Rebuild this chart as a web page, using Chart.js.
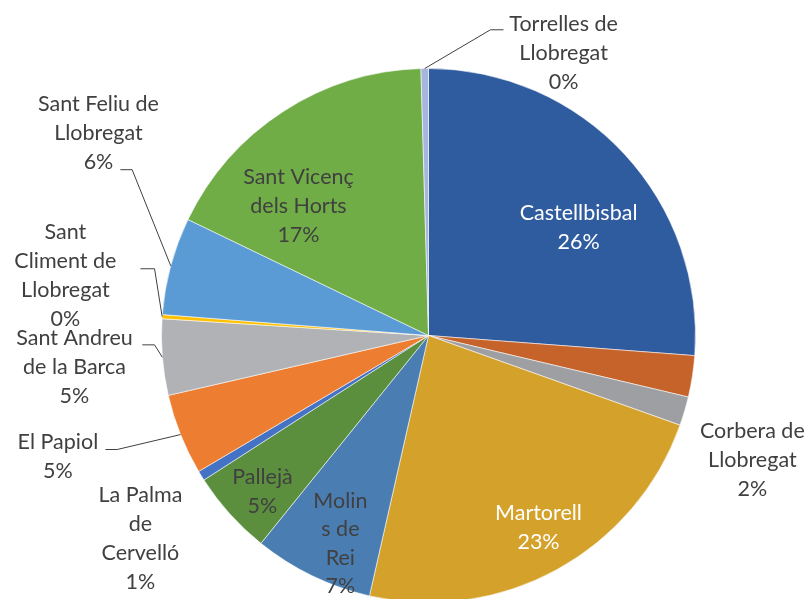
<!DOCTYPE html>
<html>
<head>
<meta charset="utf-8">
<script src="https://cdn.jsdelivr.net/npm/chart.js@4.4.1/dist/chart.umd.min.js"></script>
<style>
  html, body { margin: 0; padding: 0; background: #ffffff; overflow: hidden; }
  canvas { display: block; }
</style>
</head>
<body>
<canvas id="c" width="808" height="603"></canvas>
<script>
// ---- data (share of total, %) ----
const categories = [
  'Castellbisbal', 'Cervelló', 'Corbera de Llobregat', 'Martorell', 'Molins de Rei',
  'Pallejà', 'La Palma de Cervelló', 'El Papiol', 'Sant Andreu de la Barca',
  'Sant Climent de Llobregat', 'Sant Feliu de Llobregat', 'Sant Vicenç dels Horts',
  'Torrelles de Llobregat'
];
const shares = [26.2, 2.5, 1.75, 23.1, 7.25, 5.1, 0.6, 4.9, 4.6, 0.25, 5.9, 17.4, 0.45];
// label text as wrapped in the original (null = no label shown)
const labelLines = [
  ['Castellbisbal'], null, ['Corbera de', 'Llobregat'], ['Martorell'], ['Molin', 's de', 'Rei'],
  ['Pallejà'], ['La Palma', 'de', 'Cervelló'], ['El Papiol'], ['Sant Andreu', 'de la Barca'],
  ['Sant', 'Climent de', 'Llobregat'], ['Sant Feliu de', 'Llobregat'], ['Sant Vicenç', 'dels Horts'],
  ['Torrelles de', 'Llobregat']
];

// ---- styles / layout ----
const sliceColors = [
  '#2F5B9F', '#C6632A', '#9D9FA2', '#D4A12B', '#4A7EB3', '#5B8F3E', '#4472C4',
  '#ED7D31', '#B1B2B5', '#FFC000', '#5B9BD5', '#70AD47', '#A6B5DE'
];
// label block centre relative to pie centre, in radius units; optional leader elbow/end
const labelLayout = [
  { x: 0.562, y: -0.404, color: '#ffffff' },
  null,
  { x: 1.213, y: 0.468 },
  { x: 0.412, y: 0.719, color: '#ffffff' },
  { x: -0.330, y: 0.779, lh: 28.5 },
  { x: -0.622, y: 0.584 },
  { x: -1.079, y: 0.760 },
  { x: -1.388, y: 0.453, leader: [[-1.166, 0.427], [-1.210, 0.427]] },
  { x: -1.326, y: 0.120, leader: [[-1.026, 0.035], [-1.072, 0.035]] },
  { x: -1.360, y: -0.225, leader: [[-1.026, -0.250], [-1.079, -0.250]] },
  { x: -1.236, y: -0.757, leader: [[-1.110, -0.621], [-1.154, -0.621]] },
  { x: -0.487, y: -0.483 },
  { x: 0.506, y: -1.056, leader: [[0.232, -1.145], [0.281, -1.145]] }
];
const FONT_FAMILY = 'Lato, "Open Sans", sans-serif';
const FONT_SIZE = 21.5;
const LINE_H = 29;
const TEXT_COLOR = '#404040';
const REF_R = 267;

const sliceLabels = {
  id: 'sliceLabels',
  afterDatasetsDraw(chart) {
    const ctx = chart.ctx;
    const meta = chart.getDatasetMeta(0);
    meta.data.forEach((arc, i) => {
      const lines = labelLines[i];
      const lay = labelLayout[i];
      if (!lines || !lay) return;
      const p = arc.getProps(['x', 'y', 'outerRadius', 'startAngle', 'endAngle'], true);
      const r = p.outerRadius, cx = p.x, cy = p.y;
      const k = r / REF_R;
      const mid = (p.startAngle + p.endAngle) / 2;
      ctx.save();
      if (lay.leader) {
        ctx.beginPath();
        ctx.moveTo(cx + r * Math.cos(mid), cy + r * Math.sin(mid));
        lay.leader.forEach(pt => ctx.lineTo(cx + pt[0] * r, cy + pt[1] * r));
        ctx.strokeStyle = '#404040';
        ctx.lineWidth = 1;
        ctx.stroke();
      }
      const all = lines.concat([Math.round(shares[i]) + '%']);
      const lh = (lay.lh || LINE_H) * k;
      ctx.font = (FONT_SIZE * k) + 'px ' + FONT_FAMILY;
      ctx.fillStyle = lay.color || TEXT_COLOR;
      ctx.textAlign = 'center';
      ctx.textBaseline = 'middle';
      const bx = cx + lay.x * r;
      const by = cy + lay.y * r - (all.length - 1) * lh / 2;
      all.forEach((t, j) => ctx.fillText(t, bx, by + j * lh));
      ctx.restore();
    });
  }
};

new Chart(document.getElementById('c'), {
  type: 'pie',
  data: {
    labels: categories,
    datasets: [{
      data: shares,
      backgroundColor: sliceColors,
      borderColor: 'rgba(255,255,255,0.55)',
      borderWidth: 1
    }]
  },
  options: {
    responsive: false,
    animation: false,
    layout: { padding: { left: 161, right: 112, top: 68, bottom: 0 } },
    plugins: {
      legend: { display: false },
      tooltip: { enabled: false }
    }
  },
  plugins: [sliceLabels]
});
</script>
</body>
</html>
